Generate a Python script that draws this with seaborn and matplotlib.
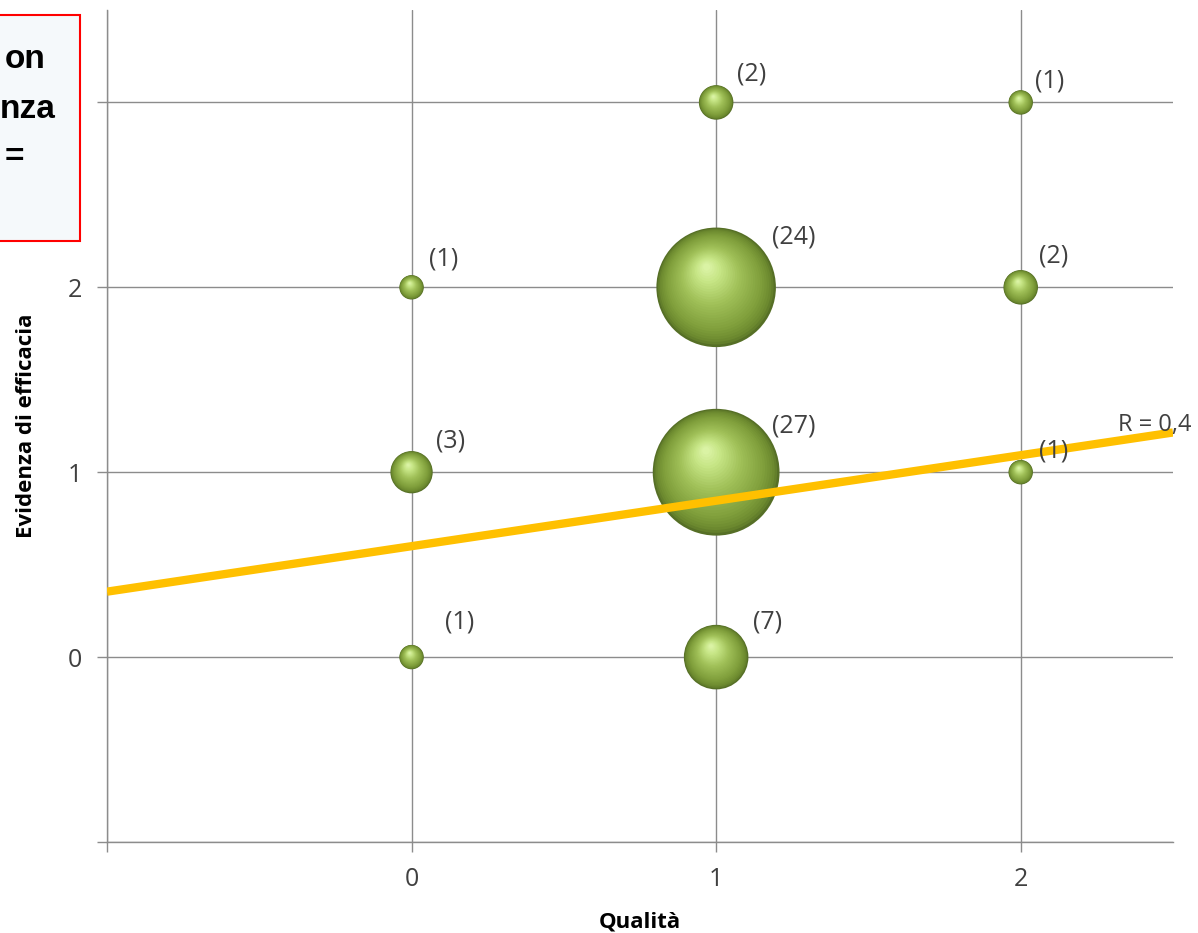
import numpy as np
import pandas as pd
import seaborn as sns
import matplotlib
matplotlib.use("Agg")
import matplotlib.pyplot as plt
import matplotlib.patches as mpatches
from matplotlib.colors import to_rgb

# ---------------- data ----------------
qualita = [0, 0, 0, 1, 1, 1, 1, 2, 2, 2]
evidenza = [0, 1, 2, 0, 1, 2, 3, 1, 2, 3]
conteggio = [1, 3, 1, 7, 27, 24, 2, 1, 2, 1]

x_ticks = [-1, 0, 1, 2]
x_ticklabels = ["", "0", "1", "2"]
y_ticks = [-1, 0, 1, 2, 3]
y_ticklabels = ["", "0", "1", "2", "3"]

trend_intercept = 0.60
trend_slope = 0.246
trend_label = "R = 0,4"

x_title = "Qualità"
y_title = "Evidenza di efficacia"
box_lines = ["on", "nza", "="]

# label offsets (pixels: right, up) – style, not data
label_offsets = [(34, 35), (25, 31), (18, 28), (38, 35), (57, 46),
                 (57, 50), (22, 28), (19, 21), (19, 31), (15, 21)]

# ---------------- style ----------------
sns.set_theme(style="white")
plt.rcParams["font.family"] = ["Open Sans", "DejaVu Sans"]

W, H = 1198, 933
fig = plt.figure(figsize=(W / 100, H / 100), dpi=100)
fig.patch.set_facecolor("white")
ax = fig.add_axes([107 / W, 1 - 842 / H, 1066 / W, 832 / H])
XLIM, YLIM = (-1, 2.5), (-1, 3.5)
ax.set_xlim(*XLIM)
ax.set_ylim(*YLIM)

grid_c = "#8c8c8c"
txt_c = "#404040"
ax.set_xticks(x_ticks)
ax.set_xticklabels(x_ticklabels)
ax.set_yticks(y_ticks)
ax.set_yticklabels(y_ticklabels)
ax.grid(True, color=grid_c, lw=1.0)
ax.set_axisbelow(True)
for s in ["top", "right"]:
    ax.spines[s].set_visible(False)
for s in ["left", "bottom"]:
    ax.spines[s].set_color(grid_c)
    ax.spines[s].set_linewidth(1.0)
ax.tick_params(direction="out", length=7, width=1, color=grid_c,
               labelsize=18, labelcolor=txt_c)
ax.tick_params(axis="x", pad=11, bottom=True)
ax.tick_params(axis="y", pad=11, left=True)

df = pd.DataFrame({"qualita": qualita, "evidenza": evidenza, "n": conteggio})

# ---------------- bubbles (shaded spheres) ----------------
K = 308.6  # pt^2 per count
nmin, nmax = min(conteggio), max(conteggio)
P = ax.transData.transform(np.column_stack([df["qualita"], df["evidenza"]]))
r_px = np.sqrt(K * df["n"].to_numpy()) / 2 / 0.72
hl = np.column_stack([-0.17 * r_px, 0.36 * r_px])

stops = [(1.0, "#566f26"), (0.95, "#6a872e"), (0.8, "#809f3b"),
         (0.5, "#9fbf57"), (0.22, "#c6e585"), (0.0, "#e2f8b0")]
stop_f = np.array([s[0] for s in stops])[::-1]
stop_c = np.array([to_rgb(s[1]) for s in stops])[::-1]


def shade(f):
    return tuple(np.interp(f, stop_f, stop_c[:, i]) for i in range(3))


fs = np.linspace(1.0, 0.06, 30)
inv = ax.transData.inverted()
layers = [(f, inv.transform(P + (1 - f) * hl)) for f in fs]

for f, c in layers:
    sns.scatterplot(x=c[:, 0], y=c[:, 1], size=df["n"],
                    sizes=(K * nmin * f * f, K * nmax * f * f),
                    size_norm=(nmin, nmax), color=shade(f),
                    linewidth=0, legend=False, ax=ax, zorder=3)

# ---------------- trend line ----------------
xs = np.array(XLIM, dtype=float)
sns.lineplot(x=xs, y=trend_intercept + trend_slope * xs, color="#FFC000",
             lw=6, ax=ax, zorder=4, solid_capstyle="butt")
ax.annotate(trend_label, (xs[1], trend_intercept + trend_slope * xs[1]),
            xytext=(-55, 7), textcoords="offset pixels", ha="left",
            va="center", fontsize=17, color=txt_c, zorder=6,
            annotation_clip=False)

# ---------------- labels ----------------
for (xq, ye, n), (ox, oy) in zip(zip(qualita, evidenza, conteggio), label_offsets):
    ax.annotate(f"({n})", (xq, ye), xytext=(ox - 1, oy), textcoords="offset pixels",
                ha="left", va="center", fontsize=18, color=txt_c, zorder=6)

ax.set_xlim(*XLIM)
ax.set_ylim(*YLIM)

ax.set_xlabel(x_title, fontsize=16, fontweight="bold", color="black")
ax.set_ylabel(y_title, fontsize=16, fontweight="bold", color="black")
ax.xaxis.set_label_coords(0.5, (842 - 922) / 832)
ax.xaxis.label.set_verticalalignment("center")
ax.yaxis.set_label_coords((27 - 107) / 1066, 0.5)
ax.yaxis.label.set_verticalalignment("center")

# ---------------- overlay box (at the left edge) ----------------
box = mpatches.Rectangle((-6 / W, 1 - 241 / H), 86 / W, 226 / H,
                         transform=fig.transFigure, facecolor="#f5f9fb",
                         edgecolor="#ff0000", lw=1.5, zorder=10)
fig.add_artist(box)

box_pos = [(46, 68), (56, 118), (24, 166)]
for txt, (xr, yb) in zip(box_lines, box_pos):
    fig.text(xr / W, 1 - yb / H, txt, ha="right", va="baseline",
             fontsize=24, fontweight="bold", color="black",
             family=["Liberation Sans", "DejaVu Sans"], zorder=11)

fig.savefig("out.png", dpi=100)
